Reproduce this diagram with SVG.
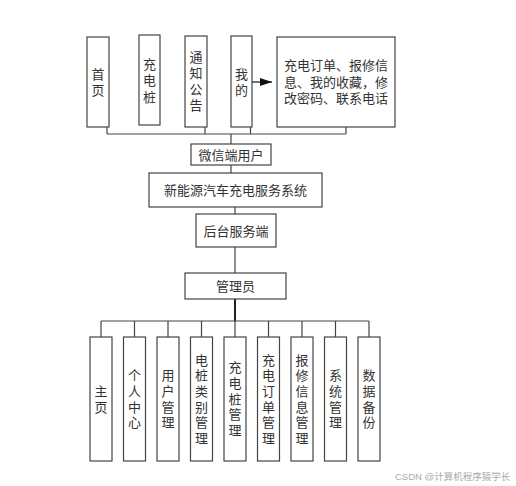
<svg xmlns="http://www.w3.org/2000/svg" width="516" height="486" viewBox="0 0 516 486">
<style>
.b{fill:#fff;stroke:#444;stroke-width:1.2}
.t{font-family:"Liberation Sans","Noto Sans CJK SC",sans-serif;font-size:13px;fill:#333;text-anchor:middle;dominant-baseline:central}
.c{fill:none;stroke:#444;stroke-width:1.2}
.w{font-family:"Liberation Sans","Noto Sans CJK SC",sans-serif;font-size:9.5px;fill:#aaa;dominant-baseline:central}
</style>
<defs>
<marker id="ah" viewBox="0 0 12 8" refX="12" refY="4" markerWidth="12" markerHeight="8" markerUnits="userSpaceOnUse" orient="auto">
<path d="M0,0 L12,4 L0,8 Z" fill="#111"/>
</marker>
</defs>
<rect width="516" height="486" fill="#fff"/>
<g id="connectors">
<path class="c" d="M107,127V134M205,127V134M250.5,127V134M346,127V134M107,134H346M231,134V144"/>
<path class="c" d="M231,165V173M235,207V214M235,247V273"/>
<path d="M235,299V321" stroke="#222" stroke-width="2" fill="none"/>
<path class="c" d="M101,321H369M101,321V337M134.5,321V337M168,321V337M201.5,321V337M235,321V337M268.5,321V337M302,321V337M335.5,321V337M369,321V337"/>
<path d="M249,82H272" stroke="#111" stroke-width="1.2" fill="none" marker-end="url(#ah)"/>
</g>
<g id="n-shouye"><rect class="b" x="87" y="37" width="22" height="90"/><text class="t"><tspan x="98" y="73.5">首</tspan><tspan x="98" y="90">页</tspan></text></g>
<g id="n-chongdianzhuang"><rect class="b" x="139" y="35" width="21" height="90"/><text class="t"><tspan x="149.5" y="63.5">充</tspan><tspan x="149.5" y="80">电</tspan><tspan x="149.5" y="96.5">桩</tspan></text></g>
<g id="n-tongzhi"><rect class="b" x="185" y="36" width="22" height="91"/><text class="t"><tspan x="196" y="57">通</tspan><tspan x="196" y="73">知</tspan><tspan x="196" y="89">公</tspan><tspan x="196" y="105">告</tspan></text></g>
<g id="n-wode"><rect class="b" x="231" y="36" width="21" height="91"/><text class="t"><tspan x="241.5" y="73.5">我</tspan><tspan x="241.5" y="90">的</tspan></text></g>
<g id="n-wode-detail"><rect class="b" x="277" y="37" width="118" height="90"/><text class="t"><tspan x="336" y="65">充电订单、报修信</tspan><tspan x="336" y="81.5">息、我的收藏，修</tspan><tspan x="336" y="98">改密码、联系电话</tspan></text></g>
<g id="n-weixin"><rect class="b" x="191" y="144" width="80" height="21"/><text class="t" x="231" y="155">微信端用户</text></g>
<g id="n-system"><rect class="b" x="149" y="173" width="173" height="34"/><text class="t" x="235.5" y="190">新能源汽车充电服务系统</text></g>
<g id="n-houtai"><rect class="b" x="196" y="214" width="80" height="33"/><text class="t" x="236" y="231">后台服务端</text></g>
<g id="n-admin"><rect class="b" x="185" y="273" width="101" height="26"/><text class="t" x="235.5" y="286">管理员</text></g>
<g id="a-zhuye"><rect class="b" x="90" y="337" width="22" height="124"/><text class="t"><tspan x="101" y="390.8">主</tspan><tspan x="101" y="406.5">页</tspan></text></g>
<g id="a-geren"><rect class="b" x="123.5" y="337" width="22" height="124"/><text class="t"><tspan x="134.5" y="375.2">个</tspan><tspan x="134.5" y="390.9">人</tspan><tspan x="134.5" y="406.6">中</tspan><tspan x="134.5" y="422.3">心</tspan></text></g>
<g id="a-yonghu"><rect class="b" x="157" y="337" width="22" height="124"/><text class="t"><tspan x="168" y="375.2">用</tspan><tspan x="168" y="390.9">户</tspan><tspan x="168" y="406.6">管</tspan><tspan x="168" y="422.3">理</tspan></text></g>
<g id="a-leibie"><rect class="b" x="190.5" y="337" width="22" height="124"/><text class="t"><tspan x="201.5" y="359.5">电</tspan><tspan x="201.5" y="375.2">桩</tspan><tspan x="201.5" y="390.9">类</tspan><tspan x="201.5" y="406.6">别</tspan><tspan x="201.5" y="422.3">管</tspan><tspan x="201.5" y="438">理</tspan></text></g>
<g id="a-zhuang"><rect class="b" x="224" y="337" width="22" height="124"/><text class="t"><tspan x="235" y="367.3">充</tspan><tspan x="235" y="383">电</tspan><tspan x="235" y="398.7">桩</tspan><tspan x="235" y="414.4">管</tspan><tspan x="235" y="430.1">理</tspan></text></g>
<g id="a-dingdan"><rect class="b" x="257.5" y="337" width="22" height="124"/><text class="t"><tspan x="268.5" y="359.5">充</tspan><tspan x="268.5" y="375.2">电</tspan><tspan x="268.5" y="390.9">订</tspan><tspan x="268.5" y="406.6">单</tspan><tspan x="268.5" y="422.3">管</tspan><tspan x="268.5" y="438">理</tspan></text></g>
<g id="a-baoxiu"><rect class="b" x="291" y="337" width="22" height="124"/><text class="t"><tspan x="302" y="359.5">报</tspan><tspan x="302" y="375.2">修</tspan><tspan x="302" y="390.9">信</tspan><tspan x="302" y="406.6">息</tspan><tspan x="302" y="422.3">管</tspan><tspan x="302" y="438">理</tspan></text></g>
<g id="a-xitong"><rect class="b" x="324.5" y="337" width="22" height="124"/><text class="t"><tspan x="335.5" y="375.2">系</tspan><tspan x="335.5" y="390.9">统</tspan><tspan x="335.5" y="406.6">管</tspan><tspan x="335.5" y="422.3">理</tspan></text></g>
<g id="a-beifen"><rect class="b" x="358" y="337" width="22" height="124"/><text class="t"><tspan x="369" y="375.2">数</tspan><tspan x="369" y="390.9">据</tspan><tspan x="369" y="406.6">备</tspan><tspan x="369" y="422.3">份</tspan></text></g>
<text class="w" x="395" y="476">CSDN @计算机程序猿学长</text>
</svg>
